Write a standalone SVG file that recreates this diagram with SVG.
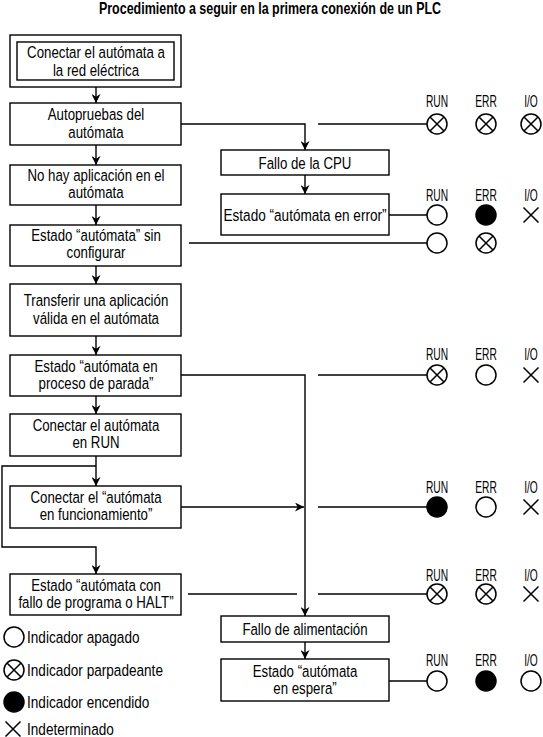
<svg xmlns="http://www.w3.org/2000/svg" width="543" height="737" viewBox="0 0 543 737">
<defs>
<style>
text{font-family:"Liberation Sans",Arial,sans-serif;fill:#000}
.t{font-size:17px;text-anchor:middle}
.lbl{font-size:16.5px;text-anchor:middle}
.lg{font-size:17px}
.title{font-size:16px;font-weight:bold;text-anchor:middle}
.box{fill:#fff;stroke:#000;stroke-width:1.4}
.ln{fill:none;stroke:#000;stroke-width:1.4}
.off{fill:#fff;stroke:#000;stroke-width:1.5}
.on{fill:#000;stroke:#000;stroke-width:1.5}
.x{stroke:#000;stroke-width:1.5;fill:none}
</style>
<marker id="ah" viewBox="0 0 10 10" refX="10" refY="5" markerWidth="9" markerHeight="9" markerUnits="userSpaceOnUse" orient="auto">
<path d="M0,0 L10,5 L0,10 L3,5 z" fill="#000"/>
</marker>
<g id="blink"><circle r="10" class="off"/><path d="M-7,-7 L7,7 M-7,7 L7,-7" class="x"/></g>
<circle id="offc" r="10" class="off"/>
<circle id="onc" r="10" class="on"/>
<path id="und" d="M-7.5,-7.5 L7.5,7.5 M-7.5,7.5 L7.5,-7.5" class="x"/>
</defs>
<rect width="543" height="737" fill="#fff"/>
<text class="title" transform="translate(270,14) scale(0.78,1)">Procedimiento a seguir en la primera conexión de un PLC</text>

<g id="connectors">
<line class="ln" x1="96" y1="87" x2="96" y2="103" marker-end="url(#ah)"/>
<line class="ln" x1="96" y1="145" x2="96" y2="165" marker-end="url(#ah)"/>
<line class="ln" x1="96" y1="205" x2="96" y2="225" marker-end="url(#ah)"/>
<line class="ln" x1="96" y1="266" x2="96" y2="284" marker-end="url(#ah)"/>
<line class="ln" x1="96" y1="336" x2="96" y2="355" marker-end="url(#ah)"/>
<line class="ln" x1="96" y1="396" x2="96" y2="414" marker-end="url(#ah)"/>
<line class="ln" x1="96" y1="456" x2="96" y2="486" marker-end="url(#ah)"/>
<polyline class="ln" points="96,466 2,466 2,547 96,547 96,574" marker-end="url(#ah)"/>
<polyline class="ln" points="181,124 305,124 305,150" marker-end="url(#ah)"/>
<line class="ln" x1="305" y1="175" x2="305" y2="194" marker-end="url(#ah)"/>
<polyline class="ln" points="181,375 305,375 305,616" marker-end="url(#ah)"/>
<line class="ln" x1="305" y1="642" x2="305" y2="659" marker-end="url(#ah)"/>
<line class="ln" x1="181" y1="507" x2="304" y2="507" marker-end="url(#ah)"/>
<line class="ln" x1="318" y1="124" x2="427" y2="124"/>
<line class="ln" x1="389" y1="215" x2="427" y2="215"/>
<line class="ln" x1="189" y1="243" x2="427" y2="243"/>
<line class="ln" x1="318" y1="375" x2="427" y2="375"/>
<line class="ln" x1="318" y1="507" x2="427" y2="507"/>
<line class="ln" x1="188" y1="594" x2="297" y2="594"/>
<line class="ln" x1="318" y1="594" x2="427" y2="594"/>
<line class="ln" x1="389" y1="681" x2="427" y2="681"/>
</g>

<g id="n1"><rect class="box" x="10" y="35" width="171" height="52"/><rect class="box" x="17" y="42" width="157" height="38"/>
<text class="t" transform="translate(96,58) scale(0.78,1)">Conectar el autómata a</text><text class="t" transform="translate(96,76) scale(0.78,1)">la red eléctrica</text></g>
<g id="n2"><rect class="box" x="10" y="103" width="171" height="42"/>
<text class="t" transform="translate(96,120) scale(0.78,1)">Autopruebas del</text><text class="t" transform="translate(96,137.5) scale(0.78,1)">autómata</text></g>
<g id="n3"><rect class="box" x="10" y="165" width="171" height="40"/>
<text class="t" transform="translate(96,180.5) scale(0.78,1)">No hay aplicación en el</text><text class="t" transform="translate(96,198) scale(0.78,1)">autómata</text></g>
<g id="n4"><rect class="box" x="10" y="225" width="171" height="41"/>
<text class="t" transform="translate(96,240.5) scale(0.78,1)">Estado “autómata” sin</text><text class="t" transform="translate(96,258) scale(0.78,1)">configurar</text></g>
<g id="n5"><rect class="box" x="10" y="284" width="171" height="52"/>
<text class="t" transform="translate(96,306) scale(0.78,1)">Transferir una aplicación</text><text class="t" transform="translate(96,324) scale(0.78,1)">válida en el autómata</text></g>
<g id="n6"><rect class="box" x="10" y="355" width="171" height="41"/>
<text class="t" transform="translate(96,371.5) scale(0.78,1)">Estado “autómata en</text><text class="t" transform="translate(96,389) scale(0.78,1)">proceso de parada”</text></g>
<g id="n7"><rect class="box" x="10" y="414" width="171" height="42"/>
<text class="t" transform="translate(96,430.5) scale(0.78,1)">Conectar el autómata</text><text class="t" transform="translate(96,448) scale(0.78,1)">en RUN</text></g>
<g id="n8"><rect class="box" x="10" y="486" width="171" height="42"/>
<text class="t" transform="translate(96,502.5) scale(0.78,1)">Conectar el “autómata</text><text class="t" transform="translate(96,520) scale(0.78,1)">en funcionamiento”</text></g>
<g id="n9"><rect class="box" x="10" y="574" width="171" height="41"/>
<text class="t" transform="translate(96,590.5) scale(0.78,1)">Estado “autómata con</text><text class="t" transform="translate(96,608) scale(0.78,1)">fallo de programa o HALT”</text></g>

<g id="n10"><rect class="box" x="221" y="150" width="168" height="25"/>
<text class="t" transform="translate(305,168.5) scale(0.78,1)">Fallo de la CPU</text></g>
<g id="n11"><rect class="box" x="221" y="194" width="168" height="41"/>
<text class="t" transform="translate(305,220.5) scale(0.8,1)">Estado “autómata en error”</text></g>
<g id="n12"><rect class="box" x="221" y="616" width="168" height="26"/>
<text class="t" transform="translate(305,635) scale(0.78,1)">Fallo de alimentación</text></g>
<g id="n13"><rect class="box" x="221" y="659" width="168" height="42"/>
<text class="t" transform="translate(305,676.5) scale(0.78,1)">Estado “autómata</text><text class="t" transform="translate(305,694) scale(0.78,1)">en espera”</text></g>

<g id="ind1">
<text class="lbl" transform="translate(437,107) scale(0.62,1)">RUN</text><text class="lbl" transform="translate(486,107) scale(0.62,1)">ERR</text><text class="lbl" transform="translate(531,107) scale(0.62,1)">I/O</text>
<use href="#blink" x="437" y="124"/><use href="#blink" x="486" y="124"/><use href="#blink" x="531" y="124"/>
</g>
<g id="ind2">
<text class="lbl" transform="translate(437,201) scale(0.62,1)">RUN</text><text class="lbl" transform="translate(486,201) scale(0.62,1)">ERR</text><text class="lbl" transform="translate(531,201) scale(0.62,1)">I/O</text>
<use href="#offc" x="437" y="215"/><use href="#onc" x="486" y="215"/><use href="#und" x="531" y="215"/>
</g>
<g id="ind3">
<use href="#offc" x="437" y="243"/><use href="#blink" x="486" y="243"/>
</g>
<g id="ind4">
<text class="lbl" transform="translate(437,360) scale(0.62,1)">RUN</text><text class="lbl" transform="translate(486,360) scale(0.62,1)">ERR</text><text class="lbl" transform="translate(531,360) scale(0.62,1)">I/O</text>
<use href="#blink" x="437" y="375"/><use href="#offc" x="486" y="375"/><use href="#und" x="531" y="375"/>
</g>
<g id="ind5">
<text class="lbl" transform="translate(437,493) scale(0.62,1)">RUN</text><text class="lbl" transform="translate(486,493) scale(0.62,1)">ERR</text><text class="lbl" transform="translate(531,493) scale(0.62,1)">I/O</text>
<use href="#onc" x="437" y="507"/><use href="#offc" x="486" y="507"/><use href="#und" x="531" y="507"/>
</g>
<g id="ind6">
<text class="lbl" transform="translate(437,581) scale(0.62,1)">RUN</text><text class="lbl" transform="translate(486,581) scale(0.62,1)">ERR</text><text class="lbl" transform="translate(531,581) scale(0.62,1)">I/O</text>
<use href="#blink" x="437" y="594"/><use href="#blink" x="486" y="594"/><use href="#und" x="531" y="594"/>
</g>
<g id="ind7">
<text class="lbl" transform="translate(437,666) scale(0.62,1)">RUN</text><text class="lbl" transform="translate(486,666) scale(0.62,1)">ERR</text><text class="lbl" transform="translate(531,666) scale(0.62,1)">I/O</text>
<use href="#offc" x="437" y="681"/><use href="#onc" x="486" y="681"/><use href="#offc" x="531" y="681"/>
</g>

<g id="legend">
<use href="#offc" x="14" y="637"/><text class="lg" transform="translate(27,643) scale(0.8,1)">Indicador apagado</text>
<use href="#blink" x="14" y="670"/><text class="lg" transform="translate(27,676) scale(0.8,1)">Indicador parpadeante</text>
<use href="#onc" x="14" y="702"/><text class="lg" transform="translate(27,708) scale(0.8,1)">Indicador encendido</text>
<use href="#und" x="13" y="729"/><text class="lg" transform="translate(27,735) scale(0.8,1)">Indeterminado</text>
</g>
</svg>
